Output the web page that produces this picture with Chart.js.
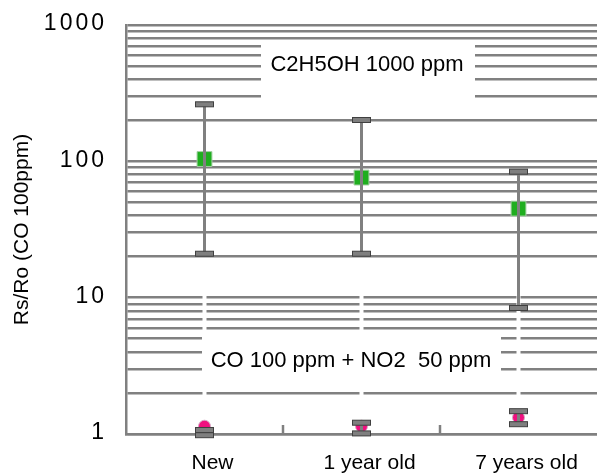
<!DOCTYPE html>
<html>
<head>
<meta charset="utf-8">
<script src="https://cdn.jsdelivr.net/npm/chart.js@4/dist/chart.umd.min.js"></script>
<style>
  html, body { margin: 0; padding: 0; background: #fff; }
  #wrap { width: 597px; height: 474px; }
</style>
</head>
<body>
<div id="wrap"><canvas id="chart"></canvas></div>
<script>
const categories = ['New', '1 year old', '7 years old'];

// C2H5OH 1000 ppm (green squares)
const ethanolValues = [104, 76, 45];
const ethanolLow = [21, 21, 8.4];
const ethanolHigh = [262, 201, 84];

// CO 100 ppm + NO2 50 ppm (pink circles)
const coValues = [1.14, 1.14, 1.32];
const coLow = [0.98, 1.01, 1.18];
const coHigh = [1.07, 1.21, 1.47];
// the CO series also has a white upper whisker, it shows as gaps in the grid
const coWhiteHigh = [13, 13, 13];

const gridValues = [
  1, 2, 3, 4, 5, 6, 7, 8, 9,
  10, 20, 30, 40, 50, 60, 70, 80, 90,
  100, 200, 300, 400, 500, 600, 700, 800, 900,
  1000,
];
const yTickLabels = [1, 10, 100, 1000];

const GRAY = '#808080';
const FONT = "'Liberation Sans', Arial, sans-serif";

// white label boxes laid over the grid
const notes = [
  { text: 'C2H5OH 1000 ppm', box: [261, 40, 214, 66], at: [367, 65] },
  { text: 'CO 100 ppm + NO2  50 ppm', box: [202, 333, 299, 55], at: [351, 361] },
];

function drawCap(ctx, x, y) {
  ctx.fillStyle = '#7f7f7f';
  ctx.strokeStyle = '#404040';
  ctx.lineWidth = 1;
  ctx.fillRect(x - 9, y - 2.5, 18, 5);
  ctx.strokeRect(x - 9, y - 2.5, 18, 5);
}

function drawErrorBars(ctx, xs, ys, low, high) {
  low.forEach((lo, i) => {
    const px = xs.getPixelForValue(i);
    const top = ys.getPixelForValue(high[i]);
    const bottom = ys.getPixelForValue(lo);
    ctx.strokeStyle = GRAY;
    ctx.lineWidth = 3;
    ctx.beginPath();
    ctx.moveTo(px, top);
    ctx.lineTo(px, bottom);
    ctx.stroke();
    drawCap(ctx, px, top);
    drawCap(ctx, px, bottom);
  });
}

const extras = {
  id: 'extras',
  beforeDatasetsDraw(c) {
    const { ctx, scales: { x, y } } = c;
    ctx.save();
    // white whiskers
    ctx.strokeStyle = '#fff';
    ctx.lineWidth = 4;
    coValues.forEach((v, i) => {
      const px = x.getPixelForValue(i);
      ctx.beginPath();
      ctx.moveTo(px, y.getPixelForValue(v));
      ctx.lineTo(px, y.getPixelForValue(coWhiteHigh[i]));
      ctx.stroke();
    });
    // note boxes
    notes.forEach((n) => {
      ctx.fillStyle = '#fff';
      ctx.fillRect(...n.box);
      ctx.fillStyle = '#000';
      ctx.font = `22px ${FONT}`;
      ctx.textAlign = 'center';
      ctx.textBaseline = 'middle';
      ctx.fillText(n.text, n.at[0], n.at[1]);
    });
    ctx.restore();
  },
  afterDatasetsDraw(c) {
    const { ctx, scales: { x, y } } = c;
    ctx.save();
    drawErrorBars(ctx, x, y, ethanolLow, ethanolHigh);
    drawErrorBars(ctx, x, y, coLow, coHigh);
    ctx.restore();
  },
  afterDraw(c) {
    const { ctx, chartArea, scales: { x, y } } = c;
    ctx.save();
    // small upward ticks between categories
    ctx.strokeStyle = GRAY;
    ctx.lineWidth = 2.5;
    for (let i = 0; i < categories.length - 1; i++) {
      const px = (x.getPixelForValue(i) + x.getPixelForValue(i + 1)) / 2;
      ctx.beginPath();
      ctx.moveTo(px, chartArea.bottom);
      ctx.lineTo(px, chartArea.bottom - 9);
      ctx.stroke();
    }
    // y tick labels, spaced out like the original
    ctx.fillStyle = '#000';
    ctx.font = `23px ${FONT}`;
    ctx.letterSpacing = '3px';
    ctx.textAlign = 'right';
    ctx.textBaseline = 'middle';
    yTickLabels.forEach((v) => {
      ctx.fillText(String(v), 107, y.getPixelForValue(v) - 1);
    });
    ctx.restore();
  },
};

new Chart(document.getElementById('chart'), {
  type: 'line',
  data: {
    labels: categories,
    datasets: [
      {
        label: 'C2H5OH 1000 ppm',
        data: ethanolValues,
        showLine: false,
        pointStyle: 'rect',
        pointRadius: 10.5,
        backgroundColor: '#1fae1f',
        borderColor: '#a4cfa4',
        borderWidth: 1,
        clip: false,
      },
      {
        label: 'CO 100 ppm + NO2 50 ppm',
        data: coValues,
        showLine: false,
        pointStyle: 'circle',
        pointRadius: 6,
        backgroundColor: '#f0107f',
        borderColor: '#d8a8c4',
        borderWidth: 1,
        clip: false,
      },
    ],
  },
  options: {
    animation: false,
    responsive: true,
    maintainAspectRatio: false,
    events: [],
    layout: {
      autoPadding: false,
      padding: { top: 25, left: 0, right: 0, bottom: 0 },
    },
    plugins: {
      legend: { display: false },
      tooltip: { enabled: false },
    },
    scales: {
      x: {
        type: 'category',
        offset: true,
        grid: { display: false, drawTicks: false },
        border: { color: GRAY, width: 2.5 },
        ticks: {
          color: '#000',
          font: { family: FONT, size: 21 },
          padding: 17,
          labelOffset: 8,
          maxRotation: 0,
        },
        afterFit(s) {
          s.height = 40;
          s.paddingLeft = 0;
          s.paddingRight = 0;
        },
      },
      y: {
        type: 'logarithmic',
        min: 1,
        max: 1000,
        afterBuildTicks(s) {
          s.ticks = gridValues.map((v) => ({ value: v }));
        },
        afterFit(s) { s.width = 126; },
        grid: { color: GRAY, lineWidth: 2.5, drawTicks: false },
        border: { color: GRAY, width: 2.5 },
        ticks: { display: false },
        title: {
          display: true,
          text: 'Rs/Ro (CO 100ppm)',
          color: '#000',
          font: { family: FONT, size: 21 },
          padding: { top: 10, bottom: 0 },
        },
      },
    },
  },
  plugins: [extras],
});
</script>
</body>
</html>
